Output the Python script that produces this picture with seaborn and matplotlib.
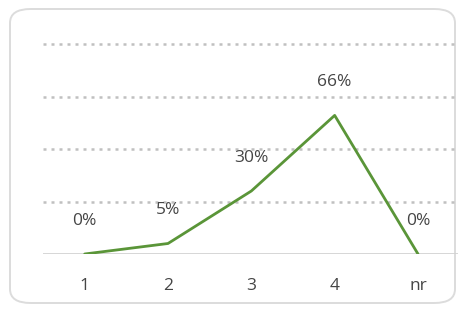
import matplotlib
matplotlib.use("Agg")
import matplotlib.pyplot as plt
import seaborn as sns
from matplotlib.patches import FancyBboxPatch

# data
categories = ["1", "2", "3", "4", "nr"]
shares = [0.0, 0.05, 0.30, 0.66, 0.0]
labels = ["0%", "5%", "30%", "66%", "0%"]

sns.set_theme(style="white")
plt.rcParams["font.family"] = ["Open Sans", "DejaVu Sans"]

fig = plt.figure(figsize=(4.58, 3.11), dpi=100)

# rounded chart frame, behind the axes
frame = FancyBboxPatch((10 / 458, 8 / 311), 445 / 458, 294 / 311,
                       boxstyle="round,pad=0,rounding_size=0.045",
                       transform=fig.transFigure, facecolor="white",
                       edgecolor="#dcdcdc", linewidth=1.4, zorder=-5)
fig.patches.append(frame)

ax = fig.add_axes([43 / 458, 57 / 311, 415 / 458, 210 / 311])
ax.set_zorder(2)
ax.set_facecolor("none")

sns.lineplot(x=categories, y=shares, sort=False, color="#5a9538",
             linewidth=2.0, ax=ax, zorder=3)

for i, txt in enumerate(labels):
    ax.annotate(txt, (i, shares[i]), xytext=(0, 24), textcoords="offset points",
                ha="center", va="center", fontsize=12.5, color="#454545")

ax.set_ylim(0, 1.0)
ax.set_xlim(-0.5, 4.48)
for yv in [0.25, 0.5, 0.75, 1.0]:
    ax.axhline(yv, color="#c0c0c0", linestyle=(0, (1.2, 2.0)), linewidth=1.8,
               zorder=1, clip_on=False)
ax.axhline(0, color="#d0d0d0", linewidth=1.2, zorder=2)

ax.set_yticks([])
ax.tick_params(axis="x", length=0, pad=17, labelsize=12.5, labelcolor="#454545")
ax.set_xlabel("")
ax.set_ylabel("")
for s in ax.spines.values():
    s.set_visible(False)

fig.savefig("out.png", dpi=100)
